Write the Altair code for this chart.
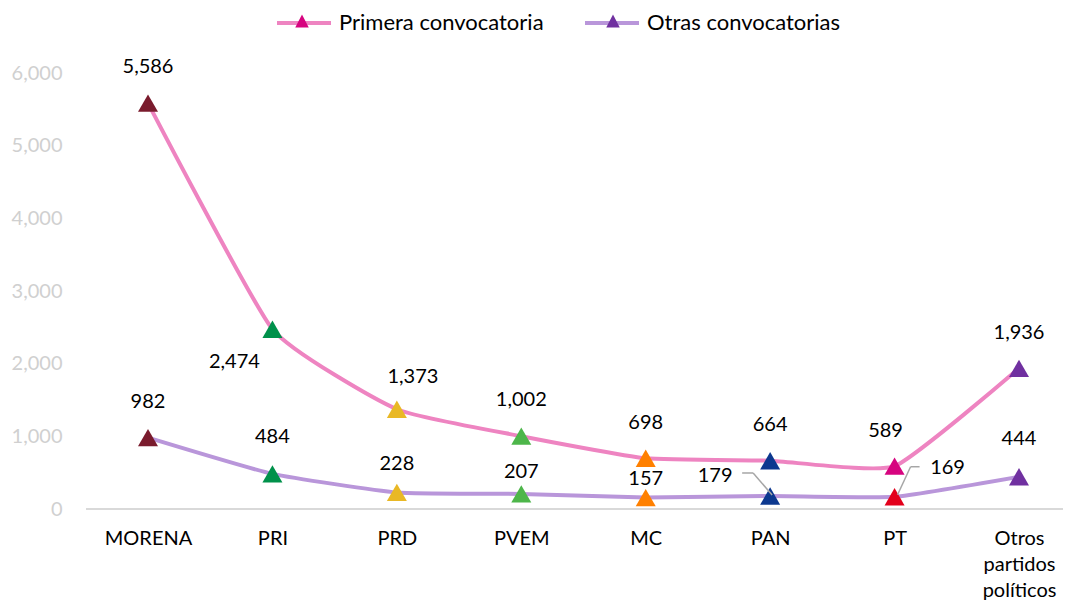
import altair as alt
import pandas as pd

# ---------------- data ----------------
parties = ["MORENA", "PRI", "PRD", "PVEM", "MC", "PAN", "PT", "Otros partidos políticos"]
primera = [5586, 2474, 1373, 1002, 698, 664, 589, 1936]
otras = [982, 484, 228, 207, 157, 179, 169, 444]
series_names = ["Primera convocatoria", "Otras convocatorias"]
y_ticks = [0, 1000, 2000, 3000, 4000, 5000, 6000]

# ---------------- style ----------------
FONT = "Lato"
FS = 20
LEG_FS = 22
line_colors = ["#EE84C1", "#B996DA"]
legend_marker_colors = ["#D6047F", "#7030A0"]
marker_keys = parties + ["PT otras"]
marker_colors = ["#7A1B2D", "#00914B", "#E9B825", "#4DB64A", "#FF8000",
                 "#0C388F", "#D6047F", "#7030A0", "#E3001B"]

label_offsets = {
    ("Primera convocatoria", "MORENA"): (0, -36),
    ("Primera convocatoria", "PRI"): (-38, 33),
    ("Primera convocatoria", "PRD"): (16, -32),
    ("Primera convocatoria", "PVEM"): (0, -36),
    ("Primera convocatoria", "MC"): (0, -35),
    ("Primera convocatoria", "PAN"): (0, -36),
    ("Primera convocatoria", "PT"): (-9, -35),
    ("Primera convocatoria", "Otros partidos políticos"): (0, -35),
    ("Otras convocatorias", "MORENA"): (0, -36),
    ("Otras convocatorias", "PRI"): (0, -37),
    ("Otras convocatorias", "PRD"): (0, -28),
    ("Otras convocatorias", "PVEM"): (0, -22),
    ("Otras convocatorias", "MC"): (0, -19),
    ("Otras convocatorias", "PAN"): (-55, -20),
    ("Otras convocatorias", "PT"): (53, -29),
    ("Otras convocatorias", "Otros partidos políticos"): (0, -38),
}

leaders = [
    ("Otras convocatorias", "PAN", (-28, -23), (-17, -23)),
    ("Otras convocatorias", "PAN", (-17, -23), (2, -1)),
    ("Otras convocatorias", "PT", (25, -30), (16, -30)),
    ("Otras convocatorias", "PT", (16, -30), (3, -2)),
]

rows = []
for p, a, b in zip(parties, primera, otras):
    rows.append({"party": p, "serie": series_names[0], "value": a})
    rows.append({"party": p, "serie": series_names[1], "value": b})
df = pd.DataFrame(rows)

base = alt.Chart(df).transform_calculate(
    key="datum.serie + '|' + datum.party",
    mkey="datum.party == 'PT' && datum.serie == 'Otras convocatorias' ? 'PT otras' : datum.party",
    serie_b="datum.serie + ' '",
)

X = alt.X(
    "party:N",
    sort=parties,
    scale=alt.Scale(type="point", range=[62, 933], padding=0),
    axis=alt.Axis(
        title=None, domain=False, ticks=False, labelAngle=0,
        labelFont=FONT, labelFontSize=FS, labelColor="#000000",
        labelPadding=19, labelLineHeight=26,
        labelExpr="datum.value == 'Otros partidos políticos' ? ['Otros', 'partidos', 'políticos'] : datum.label",
    ),
)
Y = alt.Y(
    "value:Q",
    scale=alt.Scale(domain=[0, 6000], nice=False),
    axis=alt.Axis(
        title=None, values=y_ticks, format=",.0f", domain=False, ticks=False, grid=False,
        labelFont=FONT, labelFontSize=FS, labelColor="#D0D0D0", labelPadding=24,
    ),
)

legend_common = dict(
    title=None, orient="none", legendX=189, legendY=-79, direction="horizontal",
    symbolSize=2916, labelFont=FONT, labelFontSize=LEG_FS, labelOffset=6, labelLimit=400,
    padding=0,
)

baseline = alt.Chart(pd.DataFrame({"v": [0]})).mark_rule(
    color="#D9D9D9", strokeWidth=2
).encode(y=alt.Y("v:Q", scale=alt.Scale(domain=[0, 6000], nice=False)))

lines = base.mark_line(strokeWidth=4, interpolate="cardinal", tension=0.55).encode(
    x=X, y=Y,
    stroke=alt.Stroke(
        "serie:N",
        scale=alt.Scale(domain=series_names, range=line_colors),
        legend=alt.Legend(symbolType="stroke", symbolStrokeWidth=4, columnPadding=33,
                          labelColor="#000000", **legend_common),
    ),
    detail="serie:N",
)

points = base.mark_point(shape="triangle-up", filled=True, size=400, opacity=1).encode(
    x=X, y=Y,
    fill=alt.Fill("mkey:N", scale=alt.Scale(domain=marker_keys, range=marker_colors), legend=None),
)

legend_tri = base.transform_filter("false").mark_point(filled=True, opacity=1).encode(
    x=X, y=Y,
    color=alt.Color(
        "serie_b:N",
        scale=alt.Scale(domain=[s + " " for s in series_names], range=legend_marker_colors),
        legend=alt.Legend(symbolType="M0,-0.24L0.25,0.24L-0.25,0.24Z", symbolStrokeWidth=0,
                          columnPadding=251, labelExpr="''", **legend_common),
    ),
)

layers = [baseline, lines, points]

for serie, party, (x1, y1), (x2, y2) in leaders:
    layers.append(
        base.transform_filter(f"datum.key == '{serie}|{party}'").mark_rule(
            color="#A6A6A6", strokeWidth=1.5,
            xOffset=x1, yOffset=y1, x2Offset=x2, y2Offset=y2,
        ).encode(x=X, y=Y, x2="party:N", y2="value:Q")
    )

groups = {}
for (serie, party), off in label_offsets.items():
    groups.setdefault(off, []).append(f"{serie}|{party}")
for (dx, dy), keys in groups.items():
    layers.append(
        base.transform_filter(alt.FieldOneOfPredicate(field="key", oneOf=keys)).mark_text(
            dx=dx, dy=dy, font=FONT, fontSize=FS, color="#000000",
            align="center", baseline="middle",
        ).encode(x=X, y=Y, text=alt.Text("value:Q", format=","))
    )

layers.append(legend_tri)

chart = alt.layer(*layers).properties(
    width=977, height=436,
    autosize=alt.AutoSizeParams(type="none"),
    padding={"left": 78, "top": 65, "right": 0, "bottom": 91},
    background="white",
).configure_view(stroke=None)

chart.save("out.html", embed_options={"renderer": "svg", "actions": False})
